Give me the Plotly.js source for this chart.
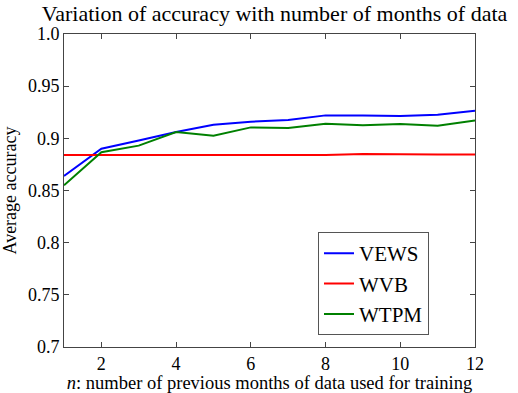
<!DOCTYPE html>
<html>
<head>
<meta charset="utf-8">
<script src="https://cdn.plot.ly/plotly-3.0.1.min.js"></script>
<style>
    html, body { margin: 0; padding: 0; background: #fff; }
    #chart { width: 518px; height: 393px; }
</style>
</head>
<body>
<div id="chart"></div>
<script>
// Months of data used for training
const months = [1, 2, 3, 4, 5, 6, 7, 8, 9, 10, 11, 12];

// Average accuracy per method
const vews = [0.864, 0.890, 0.898, 0.906, 0.913, 0.916, 0.9175, 0.922, 0.922, 0.9215, 0.9227, 0.9265];
const wvb  = [0.884, 0.884, 0.884, 0.884, 0.8845, 0.8845, 0.8845, 0.884, 0.885, 0.8845, 0.8845, 0.8845];
const wtpm = [0.855, 0.8866, 0.893, 0.906, 0.9025, 0.9105, 0.910, 0.914, 0.9125, 0.9137, 0.912, 0.917];

// Tick labels
const xTicks = [2, 4, 6, 8, 10, 12];
const yTicks = [0.7, 0.75, 0.8, 0.85, 0.9, 0.95, 1.0];
const yTickText = ['0.7', '0.75', '0.8', '0.85', '0.9', '0.95', '1.0'];

const FontFamily = 'Liberation Serif, Times New Roman, serif';

function makeTrace(name, y, color) {
    return {
        x: months,
        y: y,
        name: name,
        type: 'scatter',
        mode: 'lines',
        line: { color: color, width: 2 },
        hoverinfo: 'none'
    };
}

var traces = [
    makeTrace('VEWS', vews, '#0000ff'),
    makeTrace('WVB', wvb, '#ff0000'),
    makeTrace('WTPM', wtpm, '#008000')
];

var axisCommon = {
    showline: true,
    linecolor: '#444',
    linewidth: 1,
    mirror: 'allticks',
    ticks: 'inside',
    ticklen: 5,
    tickcolor: '#444',
    showgrid: false,
    zeroline: false,
    fixedrange: true,
    tickfont: { family: FontFamily, size: 18, color: '#000' }
};

var layout = {
    width: 518,
    height: 393,
    margin: { l: 64, r: 43, t: 34, b: 46 },
    paper_bgcolor: '#fff',
    plot_bgcolor: '#fff',
    font: { family: FontFamily, color: '#000' },
    title: {
        text: 'Variation of accuracy with number of months of data',
        font: { family: FontFamily, size: 22, color: '#000' },
        x: 0.53,
        xanchor: 'center',
        y: 0.965,
        yanchor: 'middle'
    },
    xaxis: Object.assign({}, axisCommon, {
        range: [1, 12],
        tickvals: xTicks,
        title: {
            text: '<i>n</i>: number of previous months of data used for training',
            font: { family: FontFamily, size: 18.5, color: '#000' },
            standoff: 1
        }
    }),
    yaxis: Object.assign({}, axisCommon, {
        range: [0.7, 1.0],
        tickvals: yTicks,
        ticktext: yTickText,
        title: {
            text: 'Average accuracy',
            font: { family: FontFamily, size: 18, color: '#000' },
            standoff: 12
        }
    }),
    showlegend: true,
    legend: {
        x: 0.618,
        y: 0.367,
        xanchor: 'left',
        yanchor: 'top',
        bgcolor: '#fff',
        bordercolor: '#555',
        borderwidth: 1,
        font: { family: FontFamily, size: 21, color: '#000' },
        itemwidth: 30,
        entrywidth: 93
    }
};

Plotly.newPlot('chart', traces, layout, { displayModeBar: false, staticPlot: true });
</script>
</body>
</html>
